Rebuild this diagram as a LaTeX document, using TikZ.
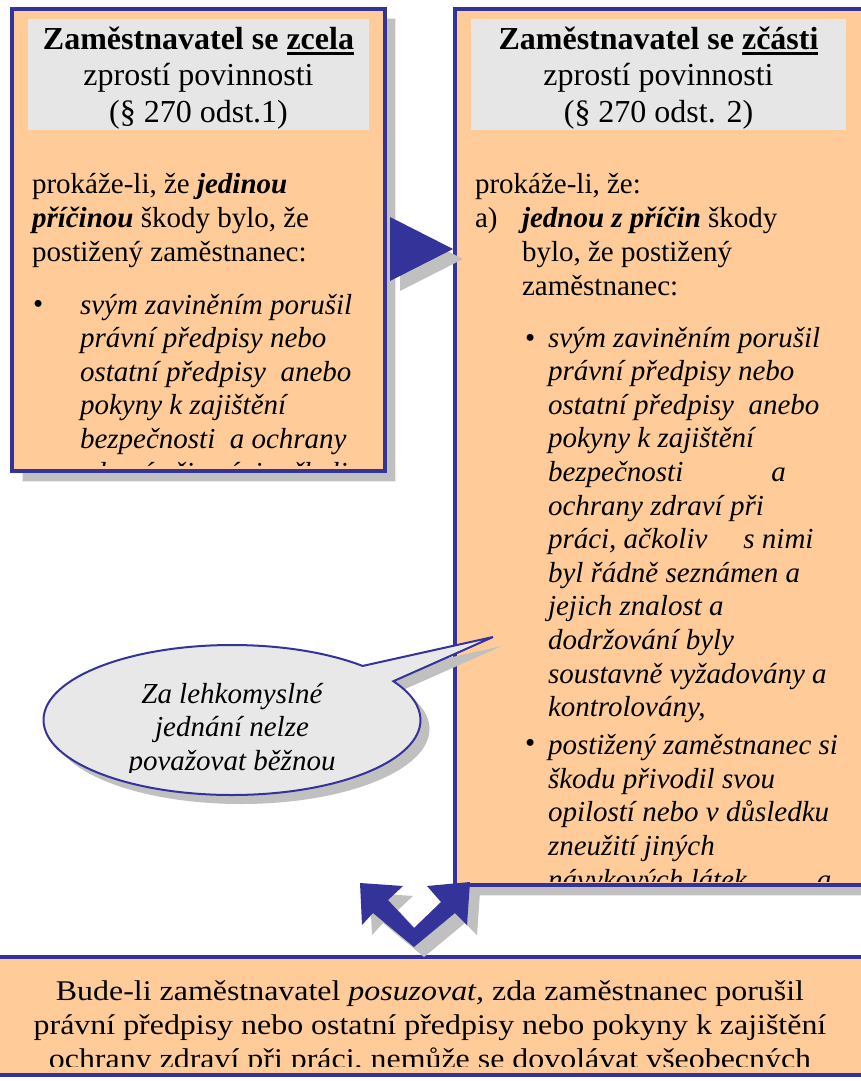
\documentclass[tikz,border=0pt]{standalone}
\usepackage{fontspec}
\setmainfont{Liberation Serif}
\newfontfamily\wideserif{Liberation Serif}[FakeStretch=1.12]
\usetikzlibrary{shapes.callouts, shadows, positioning}
\definecolor{frame-blue}{RGB}{51,51,153}
\definecolor{box-peach}{RGB}{255,204,153}
\definecolor{head-gray}{RGB}{230,230,230}
\definecolor{bubble-gray}{RGB}{232,232,232}
\definecolor{shade-gray}{RGB}{192,192,192}
\newcommand{\headfont}{\fontsize{32}{36.5}\selectfont}
\newcommand{\bodyfont}{\fontsize{29}{34}\selectfont}
\newcommand{\itemfont}{\fontsize{29}{33.6}\selectfont\itshape}
\newcommand{\thickul}[1]{\setbox0=\hbox{#1}\rlap{\vrule height -2.5pt depth 5.5pt width \wd0}\box0}

\begin{document}
\begin{tikzpicture}[
  x=1pt, y=-1pt,
  every node/.style = {inner sep=0pt, outer sep=0pt},
  % Box styles
  panel/.style     = {rectangle, draw=frame-blue, fill=box-peach, line width=4pt},
  boxshadow/.style = {drop shadow={shadow xshift=10pt, shadow yshift=-10pt,
                      fill=shade-gray, draw=black!8, line width=1pt, opacity=1}},
  headbox/.style   = {rectangle, fill=head-gray},
  bubble/.style    = {ellipse callout, draw=frame-blue, fill=bubble-gray, line width=2pt,
                      drop shadow={shadow xshift=9pt, shadow yshift=-9pt,
                      fill=shade-gray, draw=none, opacity=1}},
  % Text styles (multi-line nodes sit on the baseline of their last line)
  headtext/.style  = {font=\headfont, align=center, anchor=base},
  bodytext/.style  = {font=\bodyfont, align=left, anchor=base west},
  itemtext/.style  = {font=\itemfont, align=left, anchor=base west},
  bubbletext/.style= {font=\itemfont, align=center, anchor=base},
  notetext/.style  = {font=\wideserif\fontsize{28.5}{34}\selectfont, align=center, anchor=base},
  % Arrow styles
  blockarrow/.style= {fill=frame-blue,
                      preaction={fill=shade-gray, transform canvas={xshift=10pt, yshift=-10pt}}},
]

\fill[white] (0,0) rectangle (861,1081);
\clip (0,0) rectangle (861,1081);

% ── Boxes ──────────────────────────────────────────────────────────────────────

% whole release (left)
\node[panel, boxshadow, minimum width=373pt, minimum height=462pt] (zcela) at (198.5,240) {};
\node[headbox, minimum width=341pt, minimum height=111pt] (headA) at (198.5,74.5) {};

% partial release (right)
\node[panel, boxshadow, minimum width=420pt, minimum height=876pt] (zcasti) at (665,447) {};
\node[headbox, minimum width=375pt, minimum height=111pt] (headB) at (658.5,74.5) {};

% assessment note (bottom)
\node[panel, minimum width=885pt, minimum height=118pt] (posouzeni) at (432.5,1016) {};

% ── Texts ──────────────────────────────────────────────────────────────────────

\node[headtext] (titleA) at (198.5,122)
  {\textbf{Zaměstnavatel se \thickul{zcela}}\\zprostí povinnosti\\(§ 270 odst.1)};
\node[headtext] (titleB) at (658.5,122)
  {\textbf{Zaměstnavatel se \thickul{zčásti}}\\zprostí povinnosti\\(§ 270 odst. 2)};

\begin{scope}
  \clip (14,11) rectangle (383,465);
  \node[bodytext] (proofA) at (32,261)
    {prokáže-li, že \textbf{\textit{jedinou}}\\\textbf{\textit{příčinou}} škody bylo, že\\postižený zaměstnanec:};
  \node[bodytext] (dotA) at (33,313) {\textbullet};
  \node[itemtext] (itemA) at (80,482)
    {svým zaviněním porušil\\právní předpisy nebo\\ostatní předpisy\ \ anebo\\pokyny k zajištění\\bezpečnosti\ \ a ochrany\\zdraví při práci, ačkoliv s nimi};
\end{scope}

\begin{scope}
  \clip (457,11) rectangle (861,881);
  \node[bodytext] (proofB) at (475,193) {prokáže-li, že:};
  \node[bodytext] (letterB) at (475,227) {a)};
  \node[bodytext] (causeB) at (522,295)
    {\textbf{\textit{jednou z příčin}} škody\\bylo, že postižený\\zaměstnanec:};
  \node[bodytext] (dotB1) at (525,347) {\textbullet};
  \node[itemtext] (itemB1) at (548,716.6)
    {svým zaviněním porušil\\právní předpisy nebo\\ostatní předpisy\ \ anebo\\pokyny k zajištění\\bezpečnosti\hspace{88pt}a\\ochrany zdraví při\\práci, ačkoliv\hspace{36pt}s nimi\\byl řádně seznámen a\\jejich znalost a\\dodržování byly\\soustavně vyžadovány a\\kontrolovány,};
  \node[bodytext] (dotB2) at (525,752) {\textbullet};
  \node[itemtext] (itemB2) at (548,889)
    {postižený zaměstnanec si\\škodu přivodil svou\\opilostí nebo v důsledku\\zneužití jiných\\návykových látek\hspace{70pt}a};
\end{scope}

\begin{scope}
  \clip (0,959) rectangle (861,1066);
  \node[notetext] (noteC) at (430,1068)
    {Bude-li zaměstnavatel \textit{posuzovat,} zda zaměstnanec porušil\\právní předpisy nebo ostatní předpisy nebo pokyny k zajištění\\ochrany zdraví při práci, nemůže se dovolávat všeobecných};
\end{scope}

% ── Callout ────────────────────────────────────────────────────────────────────

\node[bubble, minimum width=377pt, minimum height=150pt,
      callout absolute pointer={(493,637)}] (remark) at (232,720) {};
\begin{scope}
  \clip (100,660) rectangle (380,772);
  \node[bubbletext] (remarkText) at (232,770.2) {Za lehkomyslné\\jednání nelze\\považovat běžnou};
\end{scope}

% ── Arrows ─────────────────────────────────────────────────────────────────────

% zcela -> zcasti
\fill[blockarrow] (390,217) -- (453,249) -- (390,281) -- cycle;

% zcasti <-> posouzeni
\fill[blockarrow] (360,883) -- (403,886) -- (388,900) -- (414,928) -- (441,902)
  -- (427,886) -- (470,882) -- (467,925) -- (455,913) -- (414,947)
  -- (373,913) -- (362,925) -- cycle;

\end{tikzpicture}
\end{document}
